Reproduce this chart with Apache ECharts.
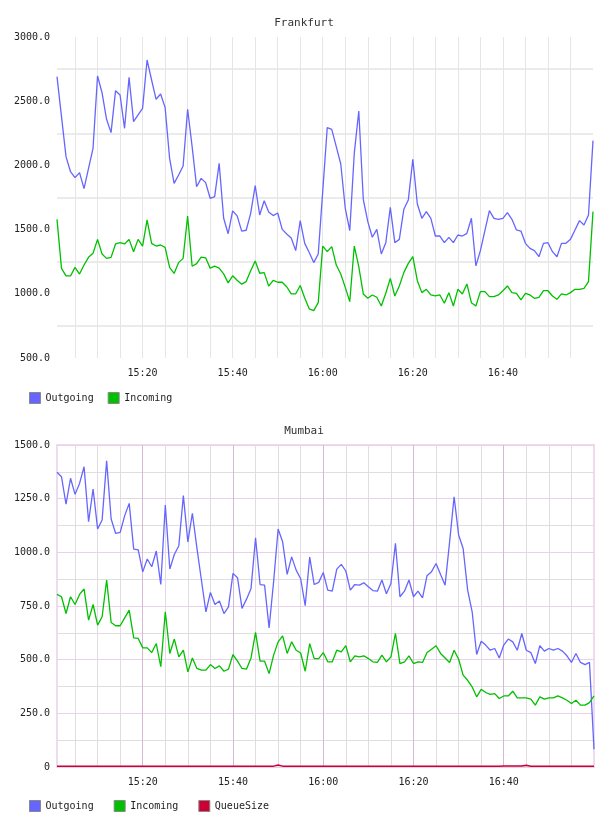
<!DOCTYPE html>
<html>
<head>
<meta charset="utf-8">
<title>Frankfurt / Mumbai</title>
<script src="https://cdn.jsdelivr.net/npm/echarts@6/dist/echarts.min.js"></script>
<style>
  html, body { margin: 0; padding: 0; background: #fff; }
  #main { width: 608px; height: 816px; }
</style>
</head>
<body>
<div id="main"></div>
<script>
// one sample a minute, 15:01 .. 17:00
var times = [];
for (var m = 1; m <= 120; m++) {
  var h = 15 + Math.floor(m / 60);
  var mm = m % 60;
  times.push(h + ':' + (mm < 10 ? '0' + mm : mm));
}

var frankfurtOutgoing = [
  2691, 2380, 2068, 1951, 1905, 1944, 1819, 1977, 2133, 2696,
  2566, 2359, 2255, 2582, 2548, 2289, 2686, 2341, 2393, 2444,
  2821, 2665, 2515, 2556, 2452, 2055, 1860, 1925, 1995, 2437,
  2146, 1834, 1899, 1866, 1744, 1757, 2016, 1588, 1468, 1646,
  1607, 1488, 1495, 1627, 1842, 1614, 1725, 1637, 1609, 1629,
  1502, 1466, 1435, 1336, 1570, 1393, 1322, 1243, 1310, 1800,
  2294, 2281, 2146, 2011, 1666, 1492, 2094, 2424, 1736, 1562,
  1440, 1502, 1310, 1398, 1673, 1398, 1424, 1658, 1731, 2047,
  1699, 1588, 1640, 1588, 1450, 1450, 1398, 1440, 1398, 1458,
  1450, 1471, 1588, 1217, 1336, 1492, 1648, 1588, 1580, 1588,
  1632, 1580, 1497, 1489, 1393, 1354, 1336, 1289, 1393, 1398,
  1328, 1289, 1393, 1393, 1424, 1497, 1570, 1536, 1614, 2193
];
var frankfurtIncoming = [
  1580, 1198, 1139, 1139, 1206, 1154, 1224, 1284, 1315, 1424,
  1310, 1276, 1284, 1388, 1398, 1388, 1424, 1328, 1424, 1372,
  1575, 1393, 1372, 1380, 1362, 1206, 1159, 1243, 1276, 1606,
  1215, 1235, 1285, 1280, 1200, 1215, 1200, 1155, 1085, 1140,
  1105, 1075, 1095, 1180, 1255, 1160, 1165, 1060, 1105, 1090,
  1090, 1055, 1000, 1000, 1065, 968, 883, 869, 931, 1372,
  1328, 1367, 1224, 1154, 1050, 939, 1372, 1211, 999, 965,
  991, 973, 905, 1004, 1120, 983, 1061, 1165, 1237, 1289,
  1102, 1009, 1035, 991, 983, 991, 926, 1009, 905, 1035,
  999, 1077, 931, 905, 1017, 1017, 978, 978, 991, 1024,
  1061, 1009, 1004, 952, 1004, 991, 965, 973, 1024, 1024,
  983, 957, 999, 991, 1009, 1035, 1035, 1043, 1095, 1640
];

var mumbaiOutgoing = [
  1373, 1352, 1224, 1345, 1270, 1321, 1399, 1143, 1295, 1109,
  1151, 1426, 1155, 1088, 1093, 1171, 1228, 1015, 1011, 909,
  969, 933, 1006, 850, 1220, 922, 990, 1031, 1264, 1049,
  1182, 1021, 871, 723, 813, 757, 773, 715, 746, 902,
  882, 739, 782, 832, 1068, 850, 847, 648, 863, 1109,
  1049, 897, 979, 917, 877, 752, 978, 850, 860, 906,
  824, 819, 922, 944, 913, 824, 850, 847, 858, 840,
  822, 819, 871, 807, 855, 1042, 793, 819, 871, 793,
  819, 788, 891, 910, 948, 897, 847, 1049, 1259, 1081,
  1018, 824, 723, 524, 586, 568, 544, 552, 508, 568,
  596, 583, 544, 622, 544, 533, 482, 565, 540, 552,
  544, 552, 540, 518, 487, 529, 487, 477, 487, 83
];
var mumbaiIncoming = [
  804, 793, 715, 793, 757, 804, 829, 684, 757, 661,
  700, 871, 673, 658, 658, 695, 731, 602, 599, 555,
  555, 533, 575, 467, 723, 529, 596, 513, 544, 443,
  508, 459, 451, 451, 477, 459, 471, 446, 456, 524,
  493, 459, 456, 508, 627, 493, 493, 435, 521, 583,
  611, 529, 583, 544, 531, 446, 575, 505, 505, 533,
  490, 490, 544, 536, 565, 490, 518, 513, 518, 505,
  490, 487, 521, 490, 513, 622, 482, 490, 518, 482,
  490, 487, 533, 549, 565, 529, 508, 487, 544, 502,
  428, 404, 373, 327, 362, 347, 338, 342, 319, 331,
  331, 353, 322, 322, 322, 316, 288, 327, 316, 322,
  322, 331, 322, 311, 296, 311, 288, 288, 300, 331
];
var mumbaiQueueSize = [
  3, 3, 3, 3, 3, 3, 3, 3, 3, 3,
  3, 3, 3, 3, 3, 3, 3, 4, 4, 4,
  4, 4, 4, 4, 4, 4, 4, 4, 4, 4,
  4, 3, 3, 3, 3, 3, 3, 3, 3, 3,
  3, 3, 3, 3, 3, 3, 3, 3, 4, 9,
  4, 3, 3, 3, 3, 3, 3, 3, 3, 3,
  3, 3, 3, 3, 3, 3, 3, 3, 3, 3,
  3, 3, 3, 3, 3, 3, 3, 3, 3, 3,
  3, 3, 3, 3, 4, 4, 4, 4, 4, 4,
  4, 4, 4, 4, 4, 4, 4, 4, 4, 5,
  5, 5, 5, 5, 8, 4, 4, 3, 3, 3,
  3, 3, 3, 3, 3, 3, 3, 3, 3, 3
];

var FONT = 'DejaVu Sans Mono';
var BLUE = '#6666ff';
var GREEN = '#00c000';
var RED = '#cc0033';

function minuteOf(label) {
  return parseInt(label.split(':')[1], 10);
}
// grid lines every 5 minutes, labels every 20, nothing on the last sample
function everyFive(index, value) {
  return minuteOf(value) % 5 === 0 && index < times.length - 1;
}
function everyTwenty(index, value) {
  return minuteOf(value) % 20 === 0 && index < times.length - 1;
}

var labelStyle = { fontFamily: FONT, fontSize: 10, color: '#222' };

function xAxisFor(gridIndex, lineColors) {
  return {
    type: 'category',
    gridIndex: gridIndex,
    data: times,
    boundaryGap: false,
    axisLine: { show: false },
    axisTick: { show: false },
    axisLabel: Object.assign({ interval: everyTwenty, margin: 10 }, labelStyle),
    splitLine: { show: true, interval: everyFive, lineStyle: { color: lineColors, width: 1 } }
  };
}

var chart = echarts.init(document.getElementById('main'));
chart.setOption({
  animation: false,
  backgroundColor: '#fff',
  title: [
    { text: 'Frankfurt', left: 'center', top: 13,
      textStyle: { fontFamily: FONT, fontSize: 11, fontWeight: 'normal', color: '#333' } },
    { text: 'Mumbai', left: 'center', top: 421,
      textStyle: { fontFamily: FONT, fontSize: 11, fontWeight: 'normal', color: '#333' } }
  ],
  legend: [
    { data: ['Outgoing', 'Incoming'], left: 24, top: 387, itemWidth: 11, itemHeight: 11, itemGap: 14,
      icon: 'rect', itemStyle: { borderColor: '#888', borderWidth: 1 }, textStyle: labelStyle },
    { data: ['Outgoing', 'Incoming', 'QueueSize'], left: 24, top: 795, itemWidth: 11, itemHeight: 11, itemGap: 20,
      icon: 'rect', itemStyle: { borderColor: '#888', borderWidth: 1 }, textStyle: labelStyle }
  ],
  grid: [
    { left: 57, right: 15, top: 37, height: 321 },
    { left: 57, right: 14, top: 445, height: 322, show: true, borderColor: '#eedcee', borderWidth: 2 }
  ],
  xAxis: [
    xAxisFor(0, ['#e6e6e6']),
    xAxisFor(1, ['#e2dce2', '#e2dce2', '#e2dce2', '#d6b8d6'])
  ],
  yAxis: [
    {
      type: 'value', gridIndex: 0, min: 500, max: 3000, interval: 250,
      axisLine: { show: false }, axisTick: { show: false },
      axisLabel: Object.assign({
        margin: 7,
        formatter: function (v) { return v % 500 === 0 ? v.toFixed(1) : ''; }
      }, labelStyle),
      splitLine: { show: true, lineStyle: { color: ['rgba(0,0,0,0)', '#ebebeb'], width: 2 } }
    },
    {
      type: 'value', gridIndex: 1, min: 0, max: 1500, interval: 125,
      axisLine: { show: false }, axisTick: { show: false },
      axisLabel: Object.assign({
        margin: 7,
        formatter: function (v) { return v % 250 === 0 ? (v === 0 ? '0' : v.toFixed(1)) : ''; }
      }, labelStyle),
      splitLine: { show: true, lineStyle: { color: ['#e8d2e8', '#dedede'], width: 1 } }
    }
  ],
  series: [
    { name: 'Outgoing', type: 'line', xAxisIndex: 0, yAxisIndex: 0, data: frankfurtOutgoing,
      showSymbol: false, color: BLUE, lineStyle: { width: 1.3 } },
    { name: 'Incoming', type: 'line', xAxisIndex: 0, yAxisIndex: 0, data: frankfurtIncoming,
      showSymbol: false, color: GREEN, lineStyle: { width: 1.3 } },
    { name: 'Outgoing', type: 'line', xAxisIndex: 1, yAxisIndex: 1, data: mumbaiOutgoing,
      showSymbol: false, color: BLUE, lineStyle: { width: 1.3 } },
    { name: 'Incoming', type: 'line', xAxisIndex: 1, yAxisIndex: 1, data: mumbaiIncoming,
      showSymbol: false, color: GREEN, lineStyle: { width: 1.3 } },
    { name: 'QueueSize', type: 'line', xAxisIndex: 1, yAxisIndex: 1, data: mumbaiQueueSize,
      showSymbol: false, color: RED, lineStyle: { width: 1.5 } }
  ]
});
</script>
</body>
</html>
